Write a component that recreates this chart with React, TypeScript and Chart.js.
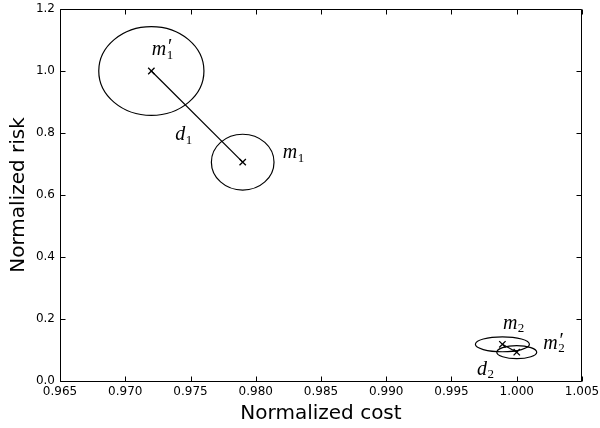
import React, { useEffect, useRef } from "react";
import { Chart, registerables } from "chart.js";

Chart.register(...registerables);

// ---- data ----
const pointNames = ["m1'", "m1", "m2", "m2'"];
const costValues = [0.972, 0.979, 0.9989, 1.0];
const riskValues = [1.0, 0.706, 0.1184, 0.093];
const spreadCost = [0.00403, 0.0024, 0.00207, 0.00153];
const spreadRisk = [0.143, 0.09, 0.024, 0.021];
const labelBase = ["m", "m", "m", "m"];
const labelSub = ["1", "1", "2", "2"];
const labelPrime = [true, false, false, true];
const distancePairs = [
  [0, 1],
  [2, 3],
];
const distanceSub = ["1", "2"];
const xMin = 0.965;
const xMax = 1.005;
const xStep = 0.005;
const yMin = 0;
const yMax = 1.2;
const yStep = 0.2;

// ---- layout (pixel offsets of annotations, left/baseline relative to anchor) ----
const pointLabelOffsets = [
  [0.5, -16],
  [40, -3.7],
  [0.5, -15.6],
  [26.5, -3.6],
];
// distance labels relative to first point of pair
const distanceLabelOffsets = [
  [24, 69],
  [-25.5, 30.7],
];

const SERIF = "'Liberation Serif', 'DejaVu Serif', serif";
const SANS = "'DejaVu Sans', sans-serif";

function drawMath(
  ctx: CanvasRenderingContext2D,
  x: number,
  y: number,
  base: string,
  sub: string,
  prime: boolean
) {
  ctx.textAlign = "left";
  ctx.textBaseline = "alphabetic";
  ctx.fillStyle = "#000";
  ctx.font = `italic 20px ${SERIF}`;
  ctx.fillText(base, x, y);
  const w = ctx.measureText(base).width;
  ctx.font = `13px ${SERIF}`;
  ctx.fillText(sub, x + w + 0.5, y + 3.5);
  if (prime) {
    ctx.font = `italic 20px ${SERIF}`;
    ctx.fillText("\u2032", x + w + 0.5, y - 2);
  }
}

const overlayPlugin = {
  id: "overlay",
  afterDatasetsDraw(chart: any) {
    const { ctx } = chart;
    const xs = chart.scales.x;
    const ys = chart.scales.y;
    ctx.save();
    ctx.strokeStyle = "#000";
    ctx.lineWidth = 1.2;
    for (let i = 0; i < costValues.length; i++) {
      const cx = xs.getPixelForValue(costValues[i]);
      const cy = ys.getPixelForValue(riskValues[i]);
      const rx = Math.abs(xs.getPixelForValue(costValues[i] + spreadCost[i]) - cx);
      const ry = Math.abs(ys.getPixelForValue(riskValues[i] + spreadRisk[i]) - cy);
      ctx.beginPath();
      ctx.ellipse(cx, cy, rx, ry, 0, 0, Math.PI * 2);
      ctx.stroke();
      const [dx, dy] = pointLabelOffsets[i];
      drawMath(ctx, cx + dx, cy + dy, labelBase[i], labelSub[i], labelPrime[i]);
    }
    distancePairs.forEach((pair, k) => {
      const a = pair[0];
      const px = xs.getPixelForValue(costValues[a]);
      const py = ys.getPixelForValue(riskValues[a]);
      const [dx, dy] = distanceLabelOffsets[k];
      drawMath(ctx, px + dx, py + dy, "d", distanceSub[k], false);
    });
    ctx.restore();
  },
  afterDraw(chart: any) {
    const { ctx, chartArea } = chart;
    const xs = chart.scales.x;
    const ys = chart.scales.y;
    const L = Math.round(chartArea.left) + 0.5;
    const R = Math.round(chartArea.right) - 0.5;
    const T = Math.round(chartArea.top) + 0.5;
    const B = Math.round(chartArea.bottom) + 0.5;
    ctx.save();
    ctx.strokeStyle = "#000";
    ctx.lineWidth = 1;
    ctx.beginPath();
    ctx.rect(L, T, R - L, B - T);
    ctx.stroke();
    const tl = 5;
    ctx.beginPath();
    xs.ticks.forEach((t: any) => {
      const px = Math.round(xs.getPixelForValue(t.value)) + 0.5;
      ctx.moveTo(px, B);
      ctx.lineTo(px, B - tl);
      ctx.moveTo(px, T);
      ctx.lineTo(px, T + tl);
    });
    ys.ticks.forEach((t: any) => {
      const py = Math.round(ys.getPixelForValue(t.value)) + 0.5;
      ctx.moveTo(L, py);
      ctx.lineTo(L + tl, py);
      ctx.moveTo(R, py);
      ctx.lineTo(R - tl, py);
    });
    ctx.stroke();
    ctx.restore();
  },
};

export default function App() {
  const ref = useRef<HTMLCanvasElement | null>(null);
  useEffect(() => {
    if (!ref.current) return;
    const points = costValues.map((c, i) => ({ x: c, y: riskValues[i] }));
    const lineSets = distancePairs.map((pair) => ({
      label: "d",
      data: pair.map((i) => ({ x: costValues[i], y: riskValues[i] })),
      showLine: true,
      borderColor: "#000",
      borderWidth: 1.2,
      pointRadius: 0,
      fill: false,
    }));
    const chart = new Chart(ref.current, {
      type: "scatter",
      data: {
        datasets: [
          ...lineSets,
          {
            label: "points",
            data: points,
            pointStyle: "crossRot",
            pointRadius: 4.5,
            borderColor: "#000",
            backgroundColor: "#000",
            borderWidth: 1.3,
          },
        ],
      },
      options: {
        responsive: false,
        animation: false,
        devicePixelRatio: 1,
        layout: { padding: { top: 9, right: 18, left: 0, bottom: 0 } },
        plugins: { legend: { display: false }, tooltip: { enabled: false } },
        scales: {
          x: {
            type: "linear",
            min: xMin,
            max: xMax,
            grid: { display: false, drawTicks: false },
            border: { display: false },
            ticks: {
              stepSize: xStep,
              autoSkip: false,
              maxRotation: 0,
              padding: 4,
              color: "#000",
              font: { family: SANS, size: 12 },
              callback: (v: any) => Number(v).toFixed(3),
            },
            title: {
              display: true,
              text: "Normalized cost",
              color: "#000",
              font: { family: SANS, size: 20 },
              padding: { top: 0, bottom: 2 },
            },
            afterFit: (s: any) => {
              s.height = 47;
              s.paddingLeft = 0;
              s.paddingRight = 0;
            },
          },
          y: {
            type: "linear",
            min: yMin,
            max: yMax,
            grid: { display: false, drawTicks: false },
            border: { display: false },
            ticks: {
              stepSize: yStep,
              padding: 5,
              color: "#000",
              font: { family: SANS, size: 12 },
              callback: (v: any) => Number(v).toFixed(1),
            },
            title: {
              display: true,
              text: "Normalized risk",
              color: "#000",
              font: { family: SANS, size: 20 },
              padding: { top: 6.5, bottom: 0 },
            },
            afterFit: (s: any) => {
              s.width = 60;
              s.paddingTop = 0;
              s.paddingBottom = 0;
            },
          },
        },
      },
      plugins: [overlayPlugin],
    });
    return () => chart.destroy();
  }, []);
  return (
    <div style={{ position: "absolute", left: 0, top: 0, width: 600, height: 428, background: "#fff" }}>
      <canvas ref={ref} width={600} height={428} style={{ display: "block" }} />
    </div>
  );
}
